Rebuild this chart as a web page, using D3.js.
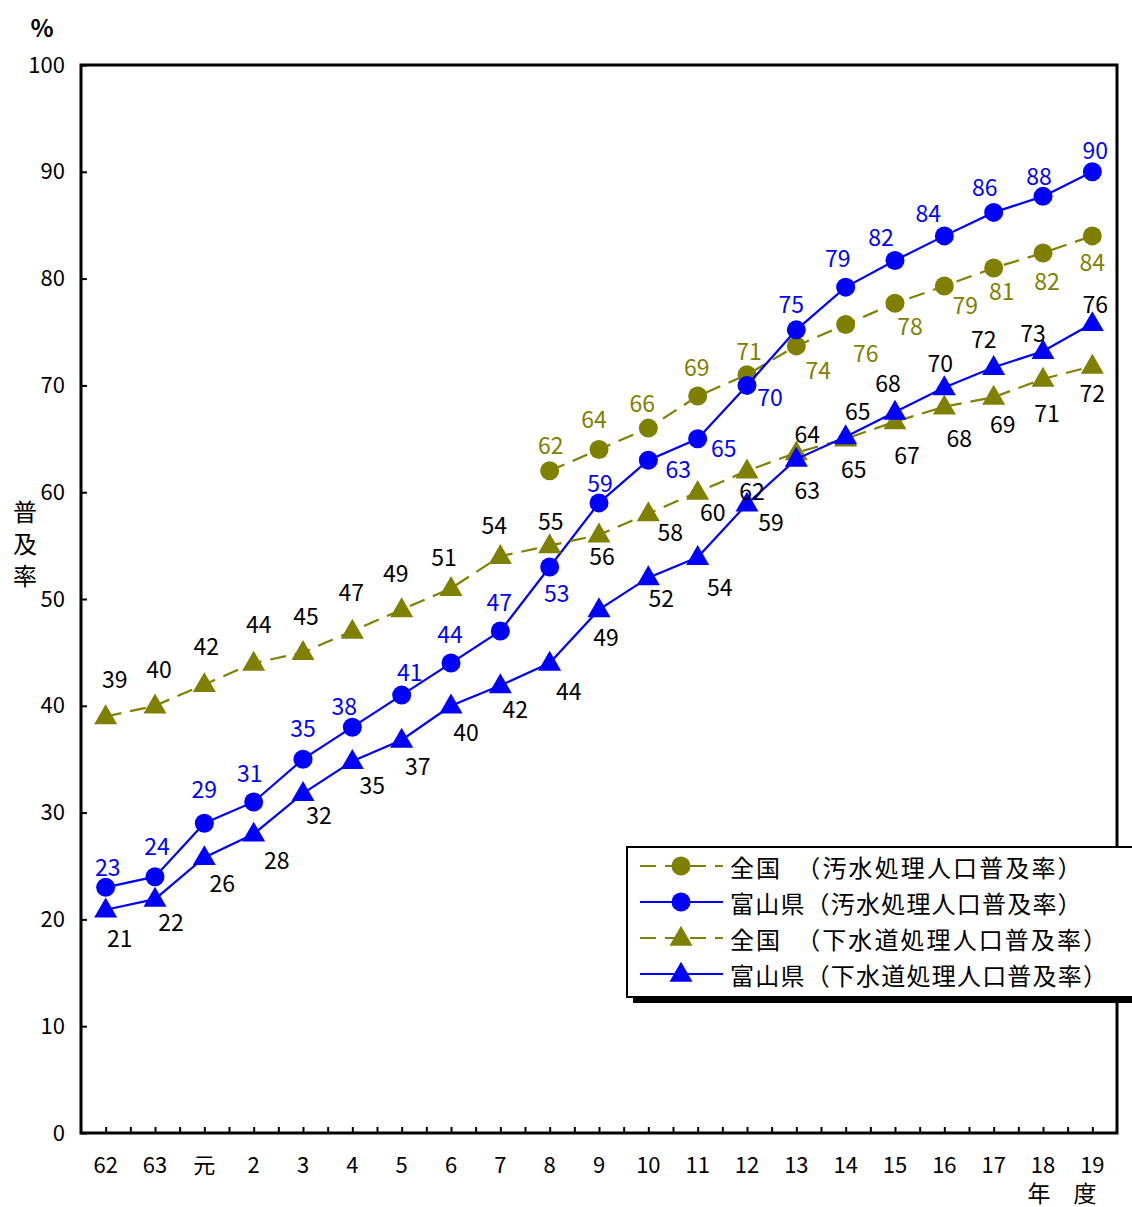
<!DOCTYPE html>
<html>
<head>
<meta charset="utf-8">
<script src="https://cdn.jsdelivr.net/npm/d3@7"></script>
<style>
  body { margin: 0; background: #fff; }
  text { font-family: "Noto Sans CJK JP", "Noto Sans", sans-serif; }
</style>
</head>
<body>
<div id="chart"></div>
<script>
// 年度
var years = ["62", "63", "元", "2", "3", "4", "5", "6", "7", "8", "9", "10",
             "11", "12", "13", "14", "15", "16", "17", "18", "19"];

// 全国（汚水処理人口普及率） - 8年度から
var zenkokuOsui = [null, null, null, null, null, null, null, null, null,
                   62, 64, 66, 69, 71, 73.7, 75.7, 77.7, 79.3, 81, 82.4, 84];
// 富山県（汚水処理人口普及率）
var toyamaOsui = [23, 24, 29, 31, 35, 38, 41, 44, 47, 53, 59, 63, 65, 70,
                  75.2, 79.2, 81.7, 84, 86.2, 87.7, 90];
// 全国（下水道処理人口普及率）
var zenkokuGesui = [39, 40, 42, 44, 45, 47, 49, 51, 54, 55, 56, 58, 60, 62,
                    63.7, 65, 66.6, 68, 68.9, 70.6, 71.8];
// 富山県（下水道処理人口普及率）
var toyamaGesui = [20.9, 21.9, 25.8, 28, 31.8, 34.8, 36.8, 40, 41.9, 44, 49,
                   52, 53.9, 58.9, 63.1, 65.2, 67.5, 69.8, 71.7, 73.2, 75.8];

var yTicks = [0, 10, 20, 30, 40, 50, 60, 70, 80, 90, 100];

// label offsets [dx, dy] from each marker
var offZO = [null, null, null, null, null, null, null, null, null,
  [1,-27],[-5,-31],[-6,-26],[-1,-30],[2,-25],[22,23],[20,27],[15,22],[21,18],[8,22],[4,27],[0,25]];
var offTO = [[2,-21],[2,-32],[0,-35],[-4,-30],[0,-32],[-8,-22],[8,-24],[-1,-30],[-1,-30],[7,25],
  [1,-21],[30,8],[26,8],[23,11],[-5,-27],[-8,-30],[-14,-24],[-16,-24],[-9,-26],[-4,-21],[3,-23]];
var offZG = [[9,-38],[4,-38],[2,-39],[5,-40],[3,-37],[-1,-40],[-6,-38],[-7,-32],[-6,-32],[1,-26],
  [3,20],[22,17],[15,19],[5,19],[11,-20],[12,-29],[12,32],[15,30],[9,26],[4,33],[0,26]];
var offTG = [[14,27],[16,22],[18,25],[23,25],[16,21],[20,23],[16,25],[15,25],[15,22],[19,27],
  [7,26],[13,19],[22,29],[24,17],[11,30],[8,31],[-7,-30],[-4,-26],[-10,-29],[-10,-19],[3,-20]];

var OLIVE = "#808000", BLUE = "#0000ff";

var series = [
  {name: "全国　（汚水処理人口普及率）", values: zenkokuOsui, off: offZO, color: OLIVE, dash: "16,9", shape: "circle", label: OLIVE},
  {name: "富山県（汚水処理人口普及率）", values: toyamaOsui, off: offTO, color: BLUE, dash: null, shape: "circle", label: BLUE},
  {name: "全国　（下水道処理人口普及率）", values: zenkokuGesui, off: offZG, color: OLIVE, dash: "16,9", shape: "triangle", label: "#000"},
  {name: "富山県（下水道処理人口普及率）", values: toyamaGesui, off: offTG, color: BLUE, dash: null, shape: "triangle", label: "#000"}
];

var W = 1132, H = 1207;
var margin = {top: 65, right: 15, bottom: 74, left: 81};
var x0 = margin.left, x1 = W - margin.right,
    y0 = margin.top, y1 = H - margin.bottom;

var svg = d3.select("#chart").append("svg")
    .attr("width", W)
    .attr("height", H);

var x = d3.scaleBand().domain(years).range([x0, x1]);
var cx = function(i) { return x(years[i]) + x.bandwidth() / 2; };
var y = d3.scaleLinear().domain([0, 100]).range([y1, y0]);

// y axis labels + inward ticks
var yAxis = svg.append("g")
    .attr("transform", "translate(" + x0 + ",0)")
    .call(d3.axisLeft(y).tickValues(yTicks).tickSize(-6).tickPadding(16));
yAxis.select(".domain").remove();
yAxis.selectAll("line").attr("stroke", "#000").attr("stroke-width", 2);
yAxis.selectAll("text").attr("font-size", 22).attr("fill", "#000");

// x labels
var xAxis = svg.append("g")
    .attr("transform", "translate(0," + y1 + ")")
    .call(d3.axisBottom(x).tickSize(0).tickPadding(24));
xAxis.select(".domain").remove();
xAxis.selectAll("text").attr("font-size", 22).attr("fill", "#000");

// x tick marks every half band
var xHalf = d3.scaleLinear().domain([0, years.length * 2]).range([x0, x1]);
var xTicks = svg.append("g")
    .attr("transform", "translate(0," + y1 + ")")
    .call(d3.axisBottom(xHalf).tickValues(d3.range(1, years.length * 2)).tickSize(-6).tickFormat(""));
xTicks.select(".domain").remove();
xTicks.selectAll("line").attr("stroke", "#000").attr("stroke-width", 2);

// frame
svg.append("rect")
    .attr("x", x0).attr("y", y0)
    .attr("width", x1 - x0).attr("height", y1 - y0)
    .attr("fill", "none").attr("stroke", "#000").attr("stroke-width", 3);

var tri = d3.symbol().type(d3.symbolTriangle).size(230);

series.forEach(function(s) {
  var pts = s.values.map(function(v, i) { return {v: v, i: i}; })
                    .filter(function(d) { return d.v != null; });
  var line = d3.line()
      .x(function(d) { return cx(d.i); })
      .y(function(d) { return y(d.v); });
  svg.append("path")
      .datum(pts)
      .attr("d", line)
      .attr("fill", "none")
      .attr("stroke", s.color)
      .attr("stroke-width", 2.2)
      .attr("stroke-dasharray", s.dash);

  var g = svg.append("g");
  if (s.shape == "circle") {
    g.selectAll("circle").data(pts).enter().append("circle")
        .attr("cx", function(d) { return cx(d.i); })
        .attr("cy", function(d) { return y(d.v); })
        .attr("r", 9.5)
        .attr("fill", s.color);
  } else {
    g.selectAll("path").data(pts).enter().append("path")
        .attr("d", tri)
        .attr("transform", function(d) { return "translate(" + cx(d.i) + "," + (y(d.v) + 1) + ")"; })
        .attr("fill", s.color);
  }
});

// data labels
series.forEach(function(s) {
  var pts = s.values.map(function(v, i) { return {v: v, i: i}; })
                    .filter(function(d) { return d.v != null; });
  svg.append("g").selectAll("text").data(pts).enter().append("text")
      .attr("x", function(d) { return cx(d.i) + s.off[d.i][0]; })
      .attr("y", function(d) { return y(d.v) + s.off[d.i][1]; })
      .attr("text-anchor", "middle")
      .attr("dominant-baseline", "central")
      .attr("font-size", 23)
      .attr("fill", s.label)
      .text(function(d) { return Math.round(d.v); });
});

// titles
svg.append("text").attr("x", 42).attr("y", 26).attr("text-anchor", "middle")
    .attr("dominant-baseline", "central").attr("font-size", 24).attr("font-weight", "bold")
    .text("%");
svg.append("g").selectAll("text").data(["普", "及", "率"]).enter().append("text")
    .attr("x", 25).attr("y", function(d, i) { return 510 + i * 32; })
    .attr("text-anchor", "middle").attr("dominant-baseline", "central")
    .attr("font-size", 24)
    .text(function(d) { return d; });
svg.append("text").attr("x", 1062).attr("y", 1192).attr("text-anchor", "middle")
    .attr("dominant-baseline", "central").attr("font-size", 23)
    .text("年　度");

// legend
var lg = svg.append("g").attr("transform", "translate(627,847)");
lg.append("rect").attr("x", 6).attr("y", 6).attr("width", 520).attr("height", 150).attr("fill", "#000");
lg.append("rect").attr("x", 0).attr("y", 0).attr("width", 520).attr("height", 150)
    .attr("fill", "#fff").attr("stroke", "#000").attr("stroke-width", 2);
series.forEach(function(s, k) {
  var yy = 19 + k * 36;
  lg.append("line").attr("x1", 13).attr("x2", 96).attr("y1", yy).attr("y2", yy)
      .attr("stroke", s.color).attr("stroke-width", 2.2).attr("stroke-dasharray", s.dash);
  if (s.shape == "circle") {
    lg.append("circle").attr("cx", 54).attr("cy", yy).attr("r", 9.5).attr("fill", s.color);
  } else {
    lg.append("path").attr("d", tri).attr("transform", "translate(54," + (yy + 1) + ")").attr("fill", s.color);
  }
  lg.append("text").attr("x", 103).attr("y", yy).attr("dominant-baseline", "central")
      .attr("font-size", 24)
      .attr("textLength", s.name.length * 25.4 - 4)
      .attr("lengthAdjust", "spacing")
      .text(s.name);
});
</script>
</body>
</html>
